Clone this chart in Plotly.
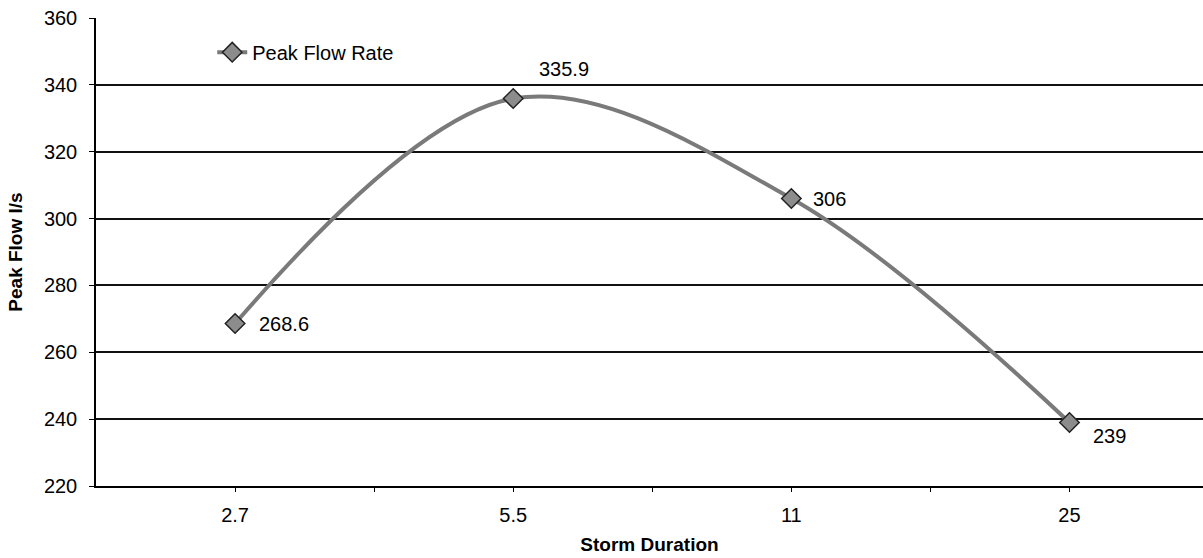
import plotly.graph_objects as go

categories = ["2.7", "5.5", "11", "25"]
peak_flow = [268.6, 335.9, 306, 239]
label_text = ["268.6", "335.9", "306", "239"]
label_shift_x = [22, 24, 20, 22]
label_shift_y = [0, 30, 0, -14]
y_ticks = [220, 240, 260, 280, 300, 320, 340, 360]

x_pos = list(range(len(categories)))
FONT = "Liberation Sans, Arial, sans-serif"

fig = go.Figure()
fig.add_trace(go.Scatter(
    x=x_pos, y=peak_flow,
    mode="lines+markers",
    name="Peak Flow Rate",
    line=dict(color="#7a7a7a", width=4, shape="spline", smoothing=1.0),
    marker=dict(symbol="diamond", size=15, color="#8c8c8c",
                line=dict(color="#222222", width=1.5)),
    cliponaxis=False,
))

for xi, yv, txt, dx, dy in zip(x_pos, peak_flow, label_text, label_shift_x, label_shift_y):
    fig.add_annotation(
        x=xi, y=yv, xref="x", yref="y", text=txt, showarrow=False,
        xanchor="left", yanchor="middle", xshift=dx, yshift=dy,
        font=dict(family=FONT, size=20, color="black"),
    )

fig.update_layout(
    width=1203, height=558,
    margin=dict(l=96, r=0, t=18, b=72),
    paper_bgcolor="white", plot_bgcolor="white",
    font=dict(family=FONT, size=20, color="black"),
    showlegend=True,
    legend=dict(x=0.105, y=0.927, xanchor="left", yanchor="middle",
                bgcolor="rgba(0,0,0,0)", font=dict(size=20)),
    xaxis=dict(
        range=[-0.5, 3.48],
        tickmode="array", tickvals=x_pos, ticktext=categories,
        ticks="outside", ticklen=4, tickcolor="black",
        ticklabelstandoff=6,
        tickfont=dict(size=20),
        showgrid=False, zeroline=False,
        showline=True, linecolor="black", linewidth=1.5,
        minor=dict(tickmode="array", tickvals=[0.5, 1.5, 2.5],
                   ticks="outside", ticklen=4, tickcolor="black", showgrid=False),
        title=dict(text="<b>Storm Duration</b>", font=dict(size=19), standoff=13),
    ),
    yaxis=dict(
        range=[220, 360],
        tickmode="array", tickvals=y_ticks,
        ticks="outside", ticklen=5, tickcolor="black",
        ticklabelstandoff=8,
        tickfont=dict(size=20),
        showgrid=True, gridcolor="#111111", gridwidth=1.5,
        zeroline=False,
        showline=True, linecolor="black", linewidth=1.5,
        title=dict(text="<b>Peak Flow l/s</b>", font=dict(size=19), standoff=16),
    ),
)

fig.write_html("out.html")
